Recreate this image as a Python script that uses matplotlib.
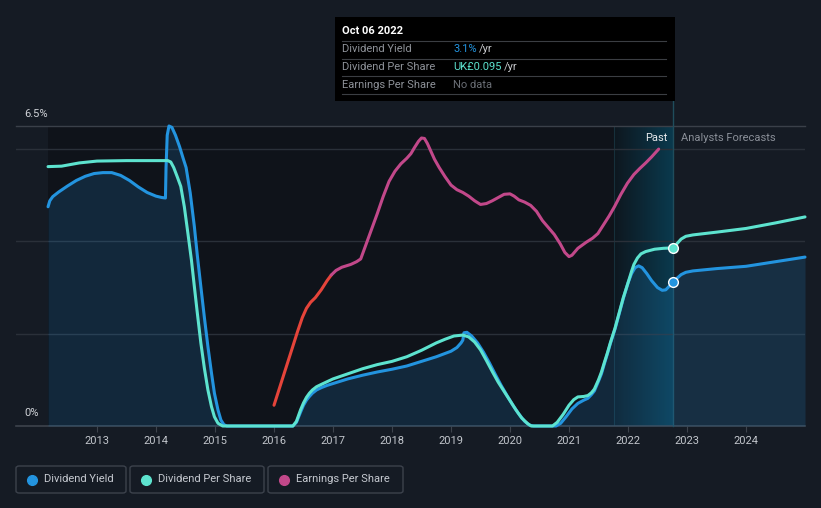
import numpy as np
import matplotlib.pyplot as plt
from matplotlib.patches import FancyBboxPatch, Rectangle
from matplotlib.lines import Line2D
from matplotlib.colors import to_rgb

plt.rcParams['font.family'] = ['Roboto', 'DejaVu Sans']

# Data (x in fractional years, y in chart % units)
yield_x = [2012.17, 2012.2, 2012.25, 2012.35, 2012.5, 2012.65, 2012.8, 2012.95, 2013.1, 2013.25,
           2013.4, 2013.55, 2013.7, 2013.85, 2014.0, 2014.1, 2014.16, 2014.17, 2014.19, 2014.22,
           2014.27, 2014.33, 2014.4, 2014.46, 2014.51, 2014.58, 2014.65, 2014.7, 2014.76, 2014.82,
           2014.88, 2014.94, 2014.99, 2015.05, 2015.1, 2015.15, 2015.2, 2016.32, 2016.38, 2016.45,
           2016.5, 2016.55, 2016.6, 2016.65, 2016.72, 2016.8, 2016.9, 2017.0, 2017.25, 2017.5,
           2017.75, 2018.0, 2018.25, 2018.5, 2018.75, 2019.0, 2019.1, 2019.17, 2019.2, 2019.22,
           2019.27, 2019.35, 2019.45, 2019.55, 2019.65, 2019.75, 2019.85, 2019.95, 2020.05, 2020.15,
           2020.25, 2020.33, 2020.4, 2020.78, 2020.86, 2020.95, 2021.05, 2021.15, 2021.25, 2021.32,
           2021.38, 2021.43, 2021.5, 2021.55, 2021.6, 2021.65, 2021.7, 2021.78, 2021.85, 2021.92,
           2022.0, 2022.06, 2022.12, 2022.18, 2022.24, 2022.32, 2022.4, 2022.5, 2022.58, 2022.64,
           2022.7, 2022.77, 2022.83, 2022.9, 2022.98, 2023.1, 2023.5, 2024.0, 2024.5, 2025.0]
yield_y = [4.75, 4.88, 4.97, 5.07, 5.2, 5.32, 5.41, 5.47, 5.49, 5.49,
           5.43, 5.32, 5.18, 5.06, 4.98, 4.95, 4.94, 5.6, 6.3, 6.5,
           6.47, 6.3, 6.05, 5.8, 5.6, 5.05, 4.32, 3.7, 3.02, 2.35,
           1.72, 1.15, 0.71, 0.35, 0.13, 0.03, 0.0, 0.0, 0.08, 0.3,
           0.45, 0.56, 0.64, 0.71, 0.78, 0.83, 0.88, 0.92, 1.02, 1.1,
           1.17, 1.23, 1.3, 1.4, 1.5, 1.62, 1.7, 1.8, 1.86, 2.02,
           2.03, 1.95, 1.8, 1.6, 1.37, 1.12, 0.88, 0.66, 0.45, 0.26,
           0.1, 0.02, 0.0, 0.0, 0.06, 0.2, 0.37, 0.49, 0.56, 0.6,
           0.68, 0.76, 0.97, 1.13, 1.35, 1.56, 1.78, 2.1, 2.43, 2.76,
           3.1, 3.3, 3.43, 3.47, 3.43, 3.3, 3.15, 3.0, 2.94, 2.95,
           3.03, 3.11, 3.2, 3.28, 3.33, 3.36, 3.41, 3.46, 3.56, 3.66]

dps_x = [2012.17, 2012.4, 2012.7, 2013.0, 2013.5, 2014.2, 2014.25, 2014.3, 2014.36, 2014.42,
         2014.48, 2014.54, 2014.6, 2014.65, 2014.7, 2014.76, 2014.82, 2014.88, 2014.94, 2014.99,
         2015.05, 2015.13, 2016.32, 2016.38, 2016.45, 2016.5, 2016.55, 2016.6, 2016.65, 2016.72,
         2016.8, 2016.9, 2017.0, 2017.25, 2017.5, 2017.75, 2018.0, 2018.25, 2018.5, 2018.75,
         2018.9, 2019.05, 2019.2, 2019.3, 2019.4, 2019.5, 2019.6, 2019.7, 2019.8, 2019.9,
         2020.0, 2020.1, 2020.2, 2020.3, 2020.36, 2020.72, 2020.8, 2020.9, 2021.0, 2021.08,
         2021.15, 2021.25, 2021.32, 2021.38, 2021.43, 2021.5, 2021.55, 2021.6, 2021.65, 2021.7,
         2021.78, 2021.85, 2021.92, 2022.0, 2022.06, 2022.1, 2022.16, 2022.22, 2022.3, 2022.45,
         2022.6, 2022.77, 2022.83, 2022.9, 2022.98, 2023.1, 2023.5, 2024.0, 2024.5, 2025.0]
dps_y = [5.62, 5.63, 5.7, 5.74, 5.75, 5.75, 5.72, 5.6, 5.4, 5.19,
         4.75, 4.18, 3.6, 3.02, 2.45, 1.8, 1.25, 0.78, 0.42, 0.2,
         0.06, 0.0, 0.0, 0.1, 0.35, 0.5, 0.62, 0.71, 0.78, 0.85,
         0.9, 0.96, 1.02, 1.13, 1.24, 1.33, 1.4, 1.5, 1.64, 1.8,
         1.88, 1.95, 1.97, 1.93, 1.82, 1.65, 1.42, 1.18, 0.95, 0.75,
         0.55, 0.35, 0.17, 0.05, 0.0, 0.0, 0.08, 0.25, 0.45, 0.57,
         0.63, 0.64, 0.66, 0.72, 0.8, 1.0, 1.17, 1.38, 1.58, 1.8,
         2.12, 2.45, 2.78, 3.1, 3.35, 3.5, 3.64, 3.73, 3.78, 3.83,
         3.85, 3.86, 3.95, 4.05, 4.11, 4.14, 4.2, 4.28, 4.4, 4.53]

eps_neg_x = [2016.0, 2016.2, 2016.4, 2016.48, 2016.55, 2016.62, 2016.7, 2016.8, 2016.9, 2016.97]
eps_neg_y = [0.45, 1.25, 2.05, 2.35, 2.55, 2.68, 2.78, 2.95, 3.15, 3.27]
eps_x = [2016.97, 2017.05, 2017.15, 2017.3, 2017.4, 2017.47, 2017.55, 2017.65, 2017.75, 2017.85,
         2017.95, 2018.05, 2018.15, 2018.25, 2018.32, 2018.38, 2018.45, 2018.5, 2018.55, 2018.6,
         2018.66, 2018.72, 2018.8, 2018.9, 2019.0, 2019.1, 2019.2, 2019.3, 2019.4, 2019.5,
         2019.6, 2019.7, 2019.8, 2019.9, 2020.0, 2020.07, 2020.15, 2020.25, 2020.35, 2020.45,
         2020.55, 2020.65, 2020.75, 2020.85, 2020.93, 2021.0, 2021.05, 2021.15, 2021.29, 2021.4,
         2021.49, 2021.58, 2021.68, 2021.77, 2021.88, 2021.99, 2022.1, 2022.2, 2022.3, 2022.4,
         2022.52]
eps_y = [3.27, 3.37, 3.44, 3.5, 3.56, 3.62, 3.9, 4.25, 4.6, 4.97,
         5.3, 5.52, 5.68, 5.8, 5.9, 6.03, 6.17, 6.24, 6.23, 6.12,
         5.95, 5.78, 5.6, 5.4, 5.22, 5.12, 5.06, 4.98, 4.88, 4.8,
         4.82, 4.88, 4.95, 5.02, 5.03, 4.98, 4.9, 4.85, 4.78, 4.65,
         4.45, 4.3, 4.15, 3.95, 3.76, 3.67, 3.7, 3.85, 3.98, 4.07,
         4.17, 4.35, 4.55, 4.75, 5.02, 5.26, 5.45, 5.58, 5.7, 5.83,
         6.0]

years = list(range(2013, 2025))
today = 2022.77
past_start = 2021.76

BG = '#151b24'
DARK = '#0f131a'
BLUE = '#2394df'
TEAL = '#5de3cf'
MAGENTA = '#c2488a'
RED = '#e5443a'

fig = plt.figure(figsize=(8.21, 5.08), dpi=100, facecolor=BG)
W, H = 821, 508
ax = fig.add_axes([16 / W, 82 / H, 789 / W, 300 / H])
ax.set_facecolor(BG)
ax.set_xlim(2011.627, 2025.0)
ax.set_ylim(0, 6.5)
for s in ax.spines.values():
    s.set_visible(False)

# past background
ax.axvspan(yield_x[0], today, color=DARK, zorder=0, lw=0)
# past-window gradient
c0 = np.array(to_rgb('#0e171f'))
c1 = np.array(to_rgb('#0a3a4e'))
t = np.linspace(0, 1, 100)[None, :, None]
grad = c0 + (c1 - c0) * t
ax.imshow(grad, extent=[past_start, today, 0, 6.5], aspect='auto', zorder=0.5,
          interpolation='bilinear')
ax.axvline(past_start, color='#16303b', lw=0.8, zorder=0.6)

# grid
for g in [2, 4, 6]:
    ax.axhline(g, color='#2a3039', lw=1, zorder=1)
ax.axhline(6.5, color='#3a4049', lw=1, zorder=1, clip_on=False)
ax.axhline(0, color='#3d434c', lw=1.2, zorder=1, clip_on=False)

# fill under dividend yield
ax.fill_between(yield_x, 0, yield_y, color=BLUE, alpha=0.17, lw=0, zorder=2)

ax.plot(yield_x, yield_y, color=BLUE, lw=2.2, zorder=4, clip_on=False,
        solid_capstyle='round', solid_joinstyle='round')
ax.plot(dps_x, dps_y, color=TEAL, lw=2.2, zorder=5, clip_on=False,
        solid_capstyle='round', solid_joinstyle='round')
ax.plot(eps_neg_x, eps_neg_y, color=RED, lw=2.2, zorder=3,
        solid_capstyle='round', solid_joinstyle='round')
ax.plot(eps_x, eps_y, color=MAGENTA, lw=2.2, zorder=3,
        solid_capstyle='round', solid_joinstyle='round')

# today markers
ax.plot([today], [3.11], 'o', ms=7, mfc=BLUE, mec='white', mew=1, zorder=6)
ax.plot([today], [3.86], 'o', ms=7, mfc=TEAL, mec='white', mew=1, zorder=6)

# today vertical line (extends to tooltip)
ax.add_line(Line2D([today, today], [0, 6.5 + 26 / 46.15], color='#1f4d5c', lw=1,
                   zorder=1.5, clip_on=False))

# ticks
ax.set_xticks(years)
ax.set_xticklabels([str(y) for y in years], color='#c2c6cc', fontsize=8)
ax.tick_params(axis='x', length=4, color='#3d434c', pad=3)
ax.set_yticks([])

# y labels
fig.text(24 / W, 1 - 114 / H, '6.5%', color='#d0d3d8', fontsize=8, va='center', ha='left')
fig.text(24 / W, 1 - 413 / H, '0%', color='#d0d3d8', fontsize=8, va='center', ha='left')

# past / forecast labels
fig.text(667 / W, 1 - 138 / H, 'Past', color='#e8eaed', fontsize=8, va='center', ha='right')
fig.text(681 / W, 1 - 138 / H, 'Analysts Forecasts', color='#8a8f98', fontsize=8,
         va='center', ha='left')

# tooltip
fig.patches.append(Rectangle((335 / W, 1 - 101 / H), 340 / W, 84 / H, transform=fig.transFigure,
                             facecolor='#000000', edgecolor='none', zorder=10))
fig.text(342 / W, 1 - 31 / H, 'Oct 06 2022', color='white', fontsize=8, fontweight='bold',
         va='center', ha='left', zorder=11)
for yy in [41, 58.5, 76, 93.5]:
    fig.lines.append(Line2D([342 / W, 666 / W], [1 - yy / H, 1 - yy / H], transform=fig.transFigure,
                            color='#3b3e43', lw=0.8, zorder=11))
rows = [('Dividend Yield', '3.1%', BLUE, 479),
        ('Dividend Per Share', 'UK£0.095', TEAL, 504),
        ('Earnings Per Share', 'No data', '#6b6f76', None)]
for i, (lab, val, col, yrx) in enumerate(rows):
    yc = 1 - (49 + 18 * i) / H
    fig.text(342 / W, yc, lab, color='#8e9299', fontsize=8, va='center', ha='left', zorder=11)
    fig.text(453 / W, yc, val, color=col, fontsize=8, va='center', ha='left', zorder=11)
    if yrx:
        fig.text(yrx / W, yc, '/yr', color='#c8cacd', fontsize=8, va='center', ha='left', zorder=11)

# legend
legend = [('Dividend Yield', BLUE, 16, 126), ('Dividend Per Share', TEAL, 130, 264),
          ('Earnings Per Share', MAGENTA, 268, 403)]
for lab, col, x0, x1 in legend:
    fig.patches.append(FancyBboxPatch((x0 / W, 1 - 493 / H), (x1 - x0) / W, 27 / H,
                                      boxstyle='round,pad=0,rounding_size=0.004',
                                      transform=fig.transFigure, facecolor=BG,
                                      edgecolor='#3c424c', lw=1))
    fig.lines.append(Line2D([(x0 + 16) / W], [1 - 479.5 / H], marker='o', ms=7, color=col,
                            transform=fig.transFigure, lw=0))
    fig.text((x0 + 28) / W, 1 - 479.5 / H, lab, color='#c5c9d0', fontsize=8,
             va='center', ha='left')

fig.savefig('out.png', dpi=100, facecolor=BG)
